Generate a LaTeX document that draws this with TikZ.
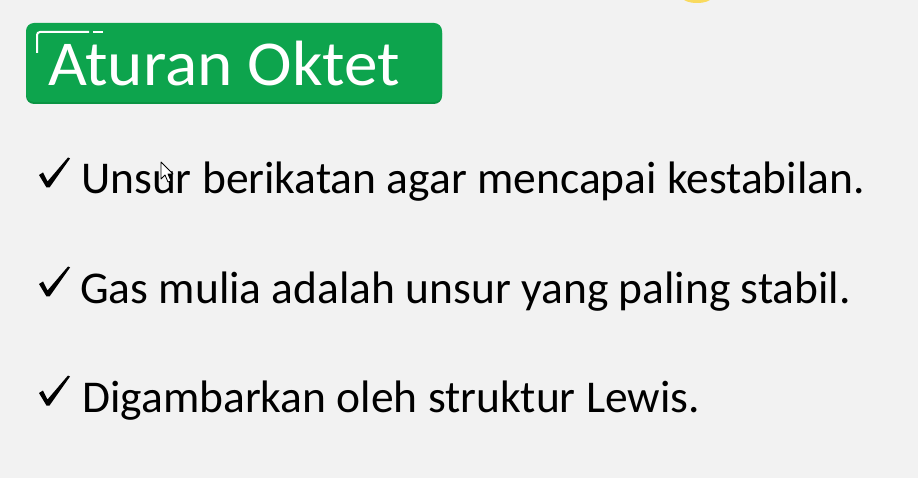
\documentclass[tikz,border=0pt]{standalone}
\usepackage{fontspec}
\setmainfont{Carlito}
\newfontfamily\titlefont[FakeStretch=1.05]{Carlito}
\usepackage{tikz}
\usetikzlibrary{positioning}

\definecolor{bgGray}{HTML}{F2F2F2}
\definecolor{titleGreen}{HTML}{0DA44D}
\definecolor{titleShade}{HTML}{0A9443}
\definecolor{blobYellow}{HTML}{F9DA5E}

\tikzset{
  titletext/.style={anchor=base west, inner sep=0pt, text=white,
    font=\titlefont\fontsize{64}{64}\selectfont},
  pointtext/.style={anchor=base west, inner sep=0pt, text=black,
    font=\fontsize{45.5}{46}\selectfont},
  % tanda centang
  cek/.pic={
    \fill[black, line join=round] (-9,-12) -- (-5,-14.5) -- (-0.5,-5.5)
      -- (20,-29.5) -- (22,-28.5) -- (1.5,0.5) -- (-1.5,0.5) -- cycle;
  }
}

\begin{document}
\begin{tikzpicture}[x=1pt,y=-1pt]
  % latar
  \fill[bgGray] (0,0) rectangle (918,478);
  \useasboundingbox (0,0) rectangle (918,478);
  \begin{scope}
    \clip (0,0) rectangle (918,478);
    \fill[blobYellow] (697,-2) ellipse (14 and 5);
  \end{scope}

  % judul
  \fill[titleShade, rounded corners=8pt] (26,25) rectangle (442,104);
  \fill[titleGreen, rounded corners=8pt] (26,23) rectangle (442,102);
  \draw[white, line width=2pt, rounded corners=3pt] (37,53) -- (37,32) -- (89,32);
  \draw[white, line width=2pt] (93,32) -- (103,32);
  \node[titletext] (judul) at (48,86) {Aturan Oktet};

  % poin-poin
  \pic at (48,187) {cek};
  \node[pointtext] (poinA) at (81,194) {Unsur berikatan agar mencapai kestabilan.};
  \pic at (48,296) {cek};
  \node[pointtext] (poinB) at (80,303) {Gas mulia adalah unsur yang paling stabil.};
  \pic at (48,405) {cek};
  \node[pointtext] (poinC) at (82,412) {Digambarkan oleh struktur Lewis.};

  % kursor
  \filldraw[fill=white, draw=black, line width=0.8pt, line join=round]
    (161,162) -- (161,179) -- (165,175) -- (168,182) -- (171,181)
    -- (168,174) -- (173,174) -- cycle;
\end{tikzpicture}
\end{document}
